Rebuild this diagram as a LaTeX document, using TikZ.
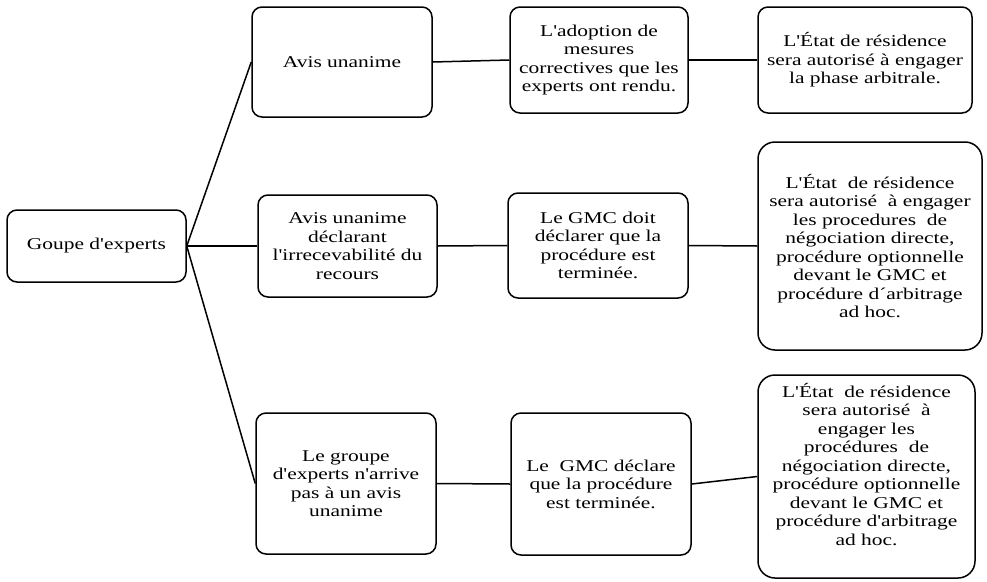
\documentclass[tikz,border=0pt]{standalone}
\usepackage{fontspec}
\newfontfamily\boxfont{Liberation Serif}[FakeStretch=1.3]
\begin{document}
\begin{tikzpicture}[x={(1pt,0)}, y={(0,-1pt)},
  box/.style={draw, line width=1.5pt, rounded corners=10pt, align=center,
    inner sep=0pt, font=\boxfont\fontsize{16.5}{18.5}\selectfont},
  bigbox/.style={box, rounded corners=17pt},
  link/.style={line width=1.5pt}]
\useasboundingbox (0,0) rectangle (987,581);

% root
\node[box, minimum width=179pt, minimum height=72pt] (goupe) at (96.5,246) {Goupe d'experts};

% first column
\node[box, minimum width=180pt, minimum height=110pt] (a1) at (342,62) {Avis unanime};
\node[box, minimum width=179pt, minimum height=102pt] (a2) at (347.5,246)
  {Avis unanime\\déclarant\\l'irrecevabilité du\\recours};
\node[box, minimum width=180pt, minimum height=141pt] (a3) at (346,483.5)
  {Le groupe\\d'experts n'arrive\\pas à un avis\\unanime};

% second column
\node[box, minimum width=178pt, minimum height=106pt] (b1) at (599,60)
  {L'adoption de\\mesures\\correctives que les\\experts ont rendu.};
\node[box, minimum width=180pt, minimum height=105pt] (b2) at (598,245.5)
  {Le GMC doit\\déclarer que la\\procédure est\\terminée.};
\node[box, minimum width=180pt, minimum height=142pt] (b3) at (601,484)
  {Le~ GMC déclare\\que la procédure\\est terminée.};

% third column
\node[box, minimum width=214pt, minimum height=106pt] (c1) at (865,60)
  {L'État de résidence\\sera autorisé à engager\\la phase arbitrale.};
\node[bigbox, minimum width=224pt, minimum height=208pt] (c2) at (870,246)
  {L'État~ de résidence\\sera autorisé~ à engager\\les procedures~ de\\négociation directe,\\procédure optionnelle\\devant le GMC et\\procédure d´arbitrage\\ad hoc.};
\node[bigbox, minimum width=217pt, minimum height=203pt] (c3) at (866.5,476.5)
  {L'État~ de résidence\\sera autorisé~ à\\engager les\\procédures~ de\\négociation directe,\\procédure optionnelle\\devant le GMC et\\procédure d'arbitrage\\ad hoc.\\[6pt]};

% connectors
\draw[link] (goupe.east) -- (a1.west);
\draw[link] (goupe.east) -- (a2.west);
\draw[link] (goupe.east) -- (a3.west);
\draw[link] (a1.east) -- (b1.west);
\draw[link] (a2.east) -- (b2.west);
\draw[link] (a3.east) -- (b3.west);
\draw[link] (b1.east) -- (c1.west);
\draw[link] (b2.east) -- (c2.west);
\draw[link] (b3.east) -- (c3.west);
\end{tikzpicture}
\end{document}
